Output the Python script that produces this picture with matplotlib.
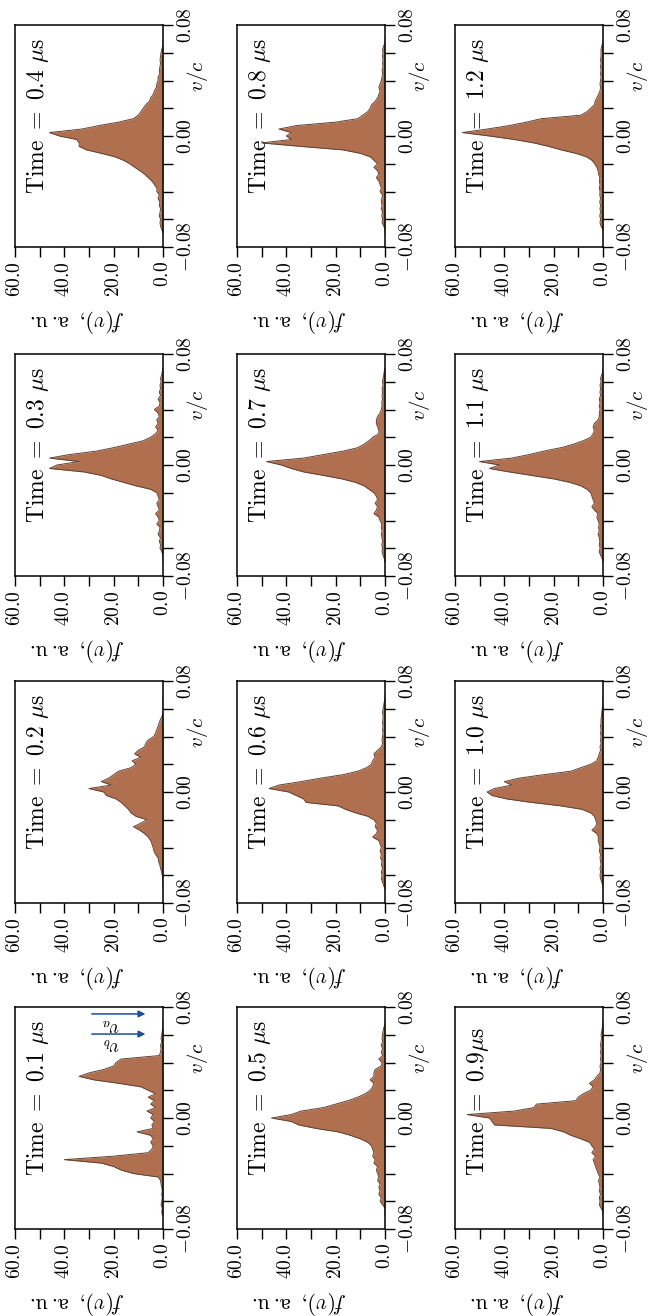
import numpy as np
import matplotlib
matplotlib.use("Agg")
import matplotlib.pyplot as plt

plt.rcParams["mathtext.fontset"] = "cm"
plt.rcParams["font.family"] = ["DejaVu Serif"]

# velocity bins v/c (bin centres)
V = np.linspace(-0.07, 0.07, 57)

TIMES = ["0.1", "0.2", "0.3", "0.4", "0.5", "0.6",
         "0.7", "0.8", "0.9", "1.0", "1.1", "1.2"]

F_01 = [0.3, 0.5, 0.3, 0.8, 0.5, 0.3, 0.5, 0.3, 0.5, 0.8,
        1.0, 2.0, 12.0, 17.0, 20.0, 25.0, 40.0, 20.0, 6.0, 4.5,
        4.0, 5.0, 4.0, 5.0, 10.5, 4.0, 4.5, 3.5, 5.0, 4.0,
        6.5, 3.0, 5.0, 3.5, 6.0, 3.0, 6.0, 9.0, 18.0, 28.0,
        34.0, 30.0, 24.0, 20.0, 19.0, 17.0, 1.5, 1.0, 0.8, 1.0,
        0.5, 0.8, 0.5, 0.3, 0, 0, 0]
F_02 = [0, 0, 0, 0, 0.3, 0.6, 1.0, 1.3, 1.8, 2.0,
        3.0, 3.7, 4.0, 4.5, 5.0, 6.0, 7.5, 9.5, 12.0, 9.0,
        6.5, 11.0, 13.0, 14.0, 15.5, 17.0, 19.0, 23.0, 24.0, 30.0,
        21.0, 25.0, 22.0, 20.0, 18.0, 13.0, 11.0, 12.5, 9.0, 11.5,
        10.0, 7.5, 7.0, 6.0, 3.7, 3.0, 2.5, 2.0, 1.5, 1.0,
        0.3, 0, 0, 0, 0, 0, 0]
F_03 = [0, 0, 0, 0.5, 1.2, 1.0, 1.5, 1.0, 2.0, 1.5,
        1.2, 2.5, 1.5, 2.0, 3.0, 1.5, 2.0, 2.5, 1.5, 2.0,
        2.5, 5.0, 11.0, 16.0, 21.0, 25.0, 32.0, 46.0, 43.0, 34.0,
        46.0, 38.0, 27.0, 20.0, 14.0, 8.0, 5.0, 3.0, 2.0, 3.0,
        2.0, 2.5, 1.5, 2.0, 3.5, 1.5, 1.2, 2.0, 1.0, 1.5,
        1.0, 1.2, 0.8, 1.0, 0.5, 0.3, 0]
F_04 = [0, 0.5, 1.0, 1.2, 1.0, 1.5, 1.2, 1.0, 1.5, 1.3,
        2.0, 1.5, 2.5, 2.5, 3.5, 4.5, 6.0, 7.5, 9.4, 11.5,
        13.5, 16.0, 19.5, 25.0, 31.0, 34.0, 34.0, 35.0, 42.0, 46.0,
        33.0, 26.0, 18.0, 12.0, 10.0, 9.0, 8.0, 7.0, 5.5, 5.0,
        4.0, 3.5, 2.7, 2.5, 2.0, 2.0, 1.3, 1.5, 1.2, 1.0,
        1.2, 1.0, 0.8, 0.5, 0, 0, 0]
F_05 = [0, 0, 0, 1.0, 2.0, 1.5, 2.5, 2.0, 2.5, 2.0,
        3.0, 2.5, 3.0, 3.5, 3.0, 4.5, 4.0, 5.0, 4.5, 5.0,
        5.5, 7.0, 10.0, 14.0, 19.0, 28.0, 35.0, 38.0, 46.0, 38.0,
        34.0, 25.0, 20.0, 15.0, 11.0, 8.0, 6.0, 5.0, 4.5, 6.0,
        4.5, 4.5, 4.0, 1.5, 1.2, 2.5, 1.0, 1.5, 1.0, 1.5,
        1.0, 1.2, 1.0, 0.8, 0.5, 0, 0]
F_06 = [0, 0.5, 1.0, 1.5, 1.2, 1.5, 1.0, 1.5, 1.2, 1.8,
        1.5, 2.0, 1.5, 2.0, 2.5, 5.0, 3.5, 3.0, 4.0, 3.5,
        4.5, 7.0, 12.0, 16.0, 19.0, 32.0, 33.0, 36.0, 39.0, 47.0,
        43.0, 34.0, 26.0, 17.0, 11.0, 7.5, 5.5, 5.0, 4.0, 4.5,
        3.0, 1.5, 1.0, 1.2, 1.0, 0.8, 1.0, 0.8, 1.0, 0.8,
        0.8, 1.0, 0.8, 0.5, 0.3, 0, 0]
F_07 = [0, 0.3, 0.8, 1.2, 1.0, 1.3, 1.0, 1.2, 1.5, 1.2,
        1.5, 1.3, 2.0, 2.5, 4.5, 3.5, 3.0, 4.0, 3.0, 3.5,
        4.5, 6.5, 8.5, 12.0, 17.5, 25.0, 33.0, 38.0, 42.0, 48.0,
        33.0, 25.0, 17.0, 11.0, 8.5, 6.5, 5.0, 2.5, 2.5, 3.0,
        3.5, 3.5, 3.0, 2.0, 1.5, 1.2, 1.3, 1.0, 1.2, 1.0,
        1.2, 0.8, 1.0, 0.8, 0.5, 0.3, 0]
F_08 = [0, 0, 0.5, 1.2, 1.0, 1.3, 1.0, 1.5, 1.2, 1.5,
        1.3, 1.0, 2.0, 1.5, 2.0, 2.5, 3.5, 2.5, 3.0, 4.5,
        3.0, 4.5, 6.0, 10.0, 17.0, 34.0, 50.0, 38.0, 40.0, 38.0,
        43.0, 36.0, 20.0, 11.0, 9.0, 7.0, 6.0, 5.5, 4.0, 3.0,
        2.5, 2.0, 2.5, 2.0, 1.5, 1.2, 1.0, 1.2, 0.8, 1.0,
        0.8, 1.0, 0.8, 1.0, 0.5, 0, 0]
F_09 = [0, 0, 0.8, 1.5, 1.2, 1.5, 1.0, 1.5, 1.2, 1.5,
        1.8, 1.2, 2.0, 2.5, 3.0, 3.5, 4.0, 3.0, 4.5, 3.5,
        4.5, 5.5, 9.0, 13.0, 16.0, 21.0, 44.0, 45.0, 46.0, 55.0,
        36.0, 28.0, 27.0, 11.0, 10.0, 8.0, 5.0, 4.0, 5.5, 3.5,
        2.5, 1.2, 1.0, 1.2, 0.8, 1.0, 0.8, 1.0, 0.8, 1.0,
        0.8, 0.6, 0.8, 0.5, 0.3, 0, 0]
F_10 = [0, 0, 0.5, 1.0, 1.2, 1.0, 1.2, 0.8, 1.0, 1.2,
        1.0, 1.5, 1.2, 1.5, 2.0, 1.8, 2.5, 4.5, 3.0, 2.5,
        3.0, 3.5, 5.0, 8.5, 17.0, 29.0, 39.0, 45.0, 47.0, 44.0,
        37.0, 40.0, 34.0, 24.0, 13.0, 9.0, 5.0, 2.5, 2.0, 1.5,
        1.0, 1.2, 0.8, 1.0, 0.8, 1.0, 0.8, 1.0, 0.8, 0.8,
        0.6, 0.5, 0.3, 0, 0, 0, 0]
F_11 = [0, 0.3, 1.0, 1.5, 1.2, 1.5, 1.3, 1.5, 2.0, 1.5,
        1.8, 1.5, 2.0, 2.5, 2.0, 3.5, 4.5, 3.5, 4.0, 4.5,
        5.0, 6.5, 9.0, 13.5, 20.0, 29.0, 38.0, 46.0, 42.0, 50.0,
        37.0, 30.0, 24.0, 17.0, 12.0, 8.0, 5.0, 4.0, 3.5, 4.0,
        3.5, 2.0, 1.5, 1.5, 1.2, 1.5, 1.2, 1.5, 1.0, 1.2,
        1.0, 1.2, 0.8, 1.0, 0.5, 0, 0]
F_12 = [0, 0, 0.8, 1.2, 1.0, 1.3, 1.0, 1.2, 1.0, 1.3,
        1.0, 1.3, 1.2, 1.5, 1.2, 1.5, 1.3, 1.8, 2.0, 2.5,
        3.4, 4.5, 6.7, 11.0, 17.0, 22.0, 28.0, 36.0, 46.0, 57.0,
        47.0, 38.0, 31.0, 25.0, 9.0, 6.5, 5.0, 3.5, 3.2, 2.5,
        1.8, 1.2, 1.0, 1.2, 1.0, 0.8, 1.0, 0.8, 1.0, 0.8,
        1.0, 0.8, 0.8, 0.8, 0.5, 0, 0]

PROFILES = [F_01, F_02, F_03, F_04, F_05, F_06,
            F_07, F_08, F_09, F_10, F_11, F_12]

# beam velocity markers in the first panel
V_A = 0.075
V_B = 0.0605

F_TICKS = [0, 10, 20, 30, 40, 50, 60]
F_LABELS = [r"$0.0$", "", r"$20.0$", "", r"$40.0$", "", r"$60.0$"]
V_TICKS = [-0.08, -0.06, -0.04, -0.02, 0.0, 0.02, 0.04, 0.06, 0.08]
V_LABELS = [r"$-0.08$", "", "", "", r"$0.00$", "", "", "", r"$0.08$"]

FILL = "#b0704f"
EDGE = "#5e4235"
ARROW = "#1c4f9c"

W, H = 651, 1316
COL_X = [15, 237, 455]
ROW_Y = [25, 354, 681, 1007]   # box tops in pixels
BOX_W, BOX_H = 148, 222

fig = plt.figure(figsize=(W / 100, H / 100), dpi=100)

for i, (t, prof) in enumerate(zip(TIMES, PROFILES)):
    col = i // 4
    row = 3 - (i % 4)
    left = COL_X[col] / W
    bottom = 1 - (ROW_Y[row] + BOX_H) / H
    ax = fig.add_axes([left, bottom, BOX_W / W, BOX_H / H])

    ax.fill_betweenx(V, 0, prof, color=FILL, lw=0)
    ax.plot(prof, V, color=EDGE, lw=0.7)

    ax.set_xlim(60, 0)
    ax.set_ylim(-0.08, 0.08)
    ax.set_xticks(F_TICKS)
    ax.set_xticklabels(F_LABELS, rotation=90, fontsize=14)
    ax.set_yticks(V_TICKS)
    ax.set_yticklabels(V_LABELS, rotation=90, va="center", fontsize=14)
    ax.yaxis.tick_right()
    ax.tick_params(direction="out", length=7, width=1.0, pad=3)
    for s in ax.spines.values():
        s.set_linewidth(1.1)

    ax.text(0.42, -0.33, r"$f(v),\ \mathrm{a.u.}$", transform=ax.transAxes,
            rotation=180, ha="center", va="center", fontsize=16)
    ax.text(1.235, 0.77, r"$v/c$", transform=ax.transAxes,
            rotation=90, ha="center", va="center", fontsize=15)

    if t == "0.9":
        label = r"$\mathrm{Time}\ =\ 0.9\mu\mathrm{s}$"
    else:
        label = r"$\mathrm{Time}\ =\ %s\ \mu\mathrm{s}$" % t
    ax.text(0.07, 0.24, label, transform=ax.transAxes, rotation=90,
            ha="left", va="bottom", fontsize=17)

    if t == "0.1":
        for v0, name, lv in [(V_A, r"$v_a$", 0.067), (V_B, r"$v_b$", 0.053)]:
            ax.annotate("", xy=(6, v0), xytext=(30, v0),
                        arrowprops=dict(arrowstyle="-|>", color=ARROW,
                                        lw=1.1, mutation_scale=10))
            ax.text(21, lv, name, rotation=180, ha="center", va="center",
                    fontsize=14)

fig.savefig("out.png", dpi=100)
